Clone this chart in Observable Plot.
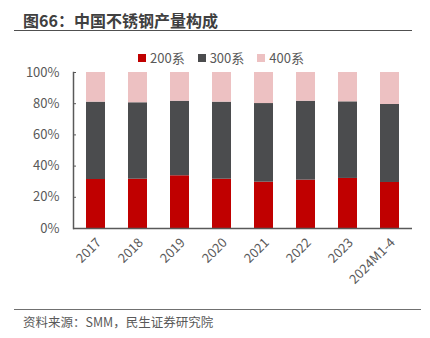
<!DOCTYPE html>
<html><head><meta charset="utf-8">
<script src="https://cdn.jsdelivr.net/npm/d3@7"></script>
<script src="https://cdn.jsdelivr.net/npm/@observablehq/plot@0.6"></script>
<style>
body{margin:0;background:#fff;font-family:"Noto Sans CJK SC","Noto Sans",sans-serif;}
#wrap{position:relative;width:430px;height:338px;overflow:hidden;}
#title{position:absolute;left:23px;top:9px;font-size:16px;font-weight:bold;color:#404040;line-height:22px;}
#tline{position:absolute;left:14px;top:30px;width:398px;height:0;border-top:1.5px solid #505050;}
#legend{position:absolute;top:49px;left:138px;font-size:13px;color:#595959;display:flex;gap:0;line-height:18px;}
#legend span{display:inline-flex;align-items:center;margin-right:13px;}
#legend i{display:inline-block;width:8px;height:8px;margin-right:4px;}
#fline{position:absolute;left:14px;top:309px;width:407px;height:0;border-top:1.5px solid #707070;}
#src{position:absolute;left:23px;top:313px;font-size:12.5px;color:#595959;line-height:18px;}
#chart{position:absolute;left:0;top:0;}
#chart svg text{font-family:"Noto Sans CJK SC","Noto Sans",sans-serif;}
</style></head>
<body><div id="wrap">
<div id="chart"></div>
<div id="title">图66：中国不锈钢产量构成</div>
<div id="tline"></div>
<div id="legend"></div>
<div id="fline"></div>
<div id="src">资料来源：SMM，民生证券研究院</div>
</div>
<script>
const categories = ["2017","2018","2019","2020","2021","2022","2023","2024M1-4"];
const seriesNames = ["200系","300系","400系"];
const s200 = [31.4, 31.6, 33.8, 31.6, 29.7, 31.0, 32.1, 29.5];
const s300 = [49.6, 49.0, 47.8, 49.4, 50.4, 50.6, 49.1, 50.0];
const s400 = [19.0, 19.4, 18.4, 19.0, 19.9, 18.4, 18.8, 20.5];
const colors = ["#C00000", "#4B4C4E", "#EDC1C2"];
const yTicks = [0, 20, 40, 60, 80, 100];

const rows = [];
[s200, s300, s400].forEach((arr, si) => arr.forEach((v, i) => rows.push({cat: categories[i], series: seriesNames[si], value: v})));

const lg = document.getElementById("legend");
seriesNames.forEach((n, i) => {
  const s = document.createElement("span");
  s.innerHTML = `<i style="background:${colors[i]}"></i>${n}`;
  lg.appendChild(s);
});

const chart = Plot.plot({
  width: 430, height: 338,
  marginLeft: 73, marginRight: 18, marginTop: 72, marginBottom: 110,
  style: {fontSize: "13px", color: "#595959", background: "transparent", overflow: "visible"},
  x: {domain: categories, paddingInner: 0.55, paddingOuter: 0.26, label: null},
  y: {domain: [0, 100], label: null},
  color: {domain: seriesNames, range: colors},
  marks: [
    Plot.barY(rows, {x: "cat", y: "value", fill: "series", order: seriesNames}),
    Plot.axisY({ticks: yTicks, tickFormat: d => d + "%", tickSize: -3, tickPadding: 17, stroke: "#595959", fill: "#595959", fontSize: 13}),
    Plot.axisX({tickSize: 0, tickRotate: -45, tickPadding: 12, dx: 3, fill: "#595959", fontSize: 13, textAnchor: "end"}),
    Plot.ruleY([0], {stroke: "#595959", strokeWidth: 1.5}),
    Plot.frame({anchor: "left", stroke: "#595959", strokeWidth: 1.5})
  ]
});
document.getElementById("chart").appendChild(chart);
</script>
</body></html>
